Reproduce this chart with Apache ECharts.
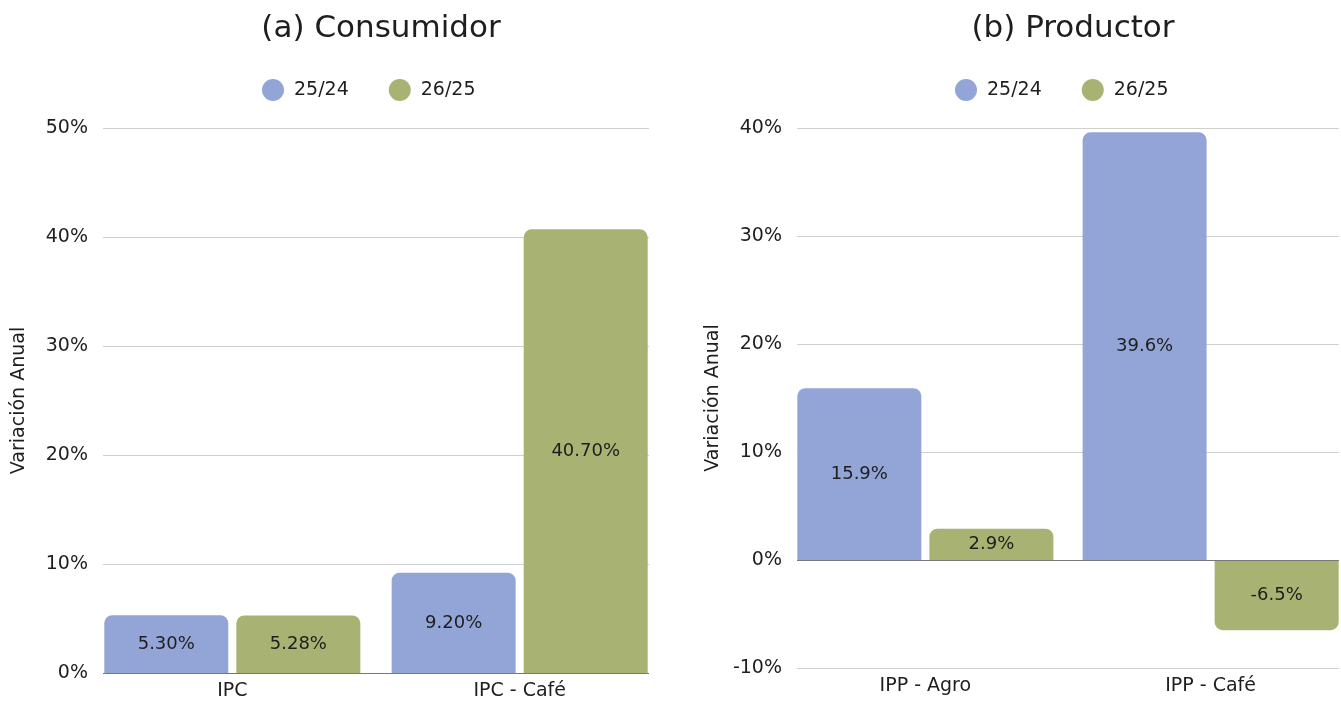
<!DOCTYPE html>
<html>
<head>
<meta charset="utf-8">
<script src="https://cdn.jsdelivr.net/npm/echarts@6/dist/echarts.min.js"></script>
<style>
  html, body { margin: 0; padding: 0; background: #fff; }
  #chart { width: 1341px; height: 701px; }
</style>
</head>
<body>
<div id="chart"></div>
<script>
// data
var seriesNames = ['25/24', '26/25']
var consCategories = ['IPC', 'IPC - Café']
var consA = [5.30, 9.20]
var consB = [5.28, 40.70]
var prodCategories = ['IPP - Agro', 'IPP - Café']
var prodA = [15.9, 39.6]
var prodB = [2.9, -6.5]

var FONT = '"DejaVu Sans", sans-serif'
var TXT = '#1e1e1e'
var BLUE = '#93a5d7'
var GREEN = '#a8b373'

// bars are rounded only on the end away from zero
function pairs (arr) {
  return arr.map(function (v, i) {
    return {
      value: [i, v],
      itemStyle: { borderRadius: v >= 0 ? [8, 8, 0, 0] : [0, 0, 8, 8] }
    }
  })
}

function barSeries (name, color, data, idx, decimals) {
  return {
    name: name,
    type: 'bar',
    xAxisIndex: idx,
    yAxisIndex: idx,
    data: pairs(data),
    barWidth: 124,
    barGap: '6.5%',
    itemStyle: { color: color },
    label: {
      show: true,
      position: 'inside',
      color: TXT,
      fontFamily: FONT,
      fontSize: 18,
      formatter: function (p) { return p.value[1].toFixed(decimals) + '%' }
    },
    z: 3
  }
}

function zeroLine (idx) {
  return {
    type: 'line',
    xAxisIndex: idx,
    yAxisIndex: idx,
    data: [],
    silent: true,
    z: 1,
    markLine: {
      silent: true,
      symbol: 'none',
      label: { show: false },
      lineStyle: { color: '#777', width: 1, type: 'solid' },
      data: [{ yAxis: 0 }]
    }
  }
}

function xAxisFor (idx, cats) {
  return {
    type: 'value',
    gridIndex: idx,
    min: -0.45,
    max: 1.45,
    axisLine: { show: false },
    axisTick: { show: false },
    splitLine: { show: false },
    axisLabel: {
      customValues: [0, 1],
      margin: 9,
      color: TXT,
      fontFamily: FONT,
      fontSize: 19,
      formatter: function (v) { return cats[Math.round(v)] }
    }
  }
}

function yAxisFor (idx, min, max) {
  return {
    type: 'value',
    gridIndex: idx,
    min: min,
    max: max,
    interval: 10,
    name: 'Variación Anual',
    nameLocation: 'middle',
    nameGap: 74,
    nameTextStyle: { color: TXT, fontFamily: FONT, fontSize: 19 },
    axisLine: { show: false },
    axisTick: { show: false },
    splitLine: { lineStyle: { color: '#d0d0d0', width: 1 } },
    axisLabel: {
      margin: 15,
      color: TXT,
      fontFamily: FONT,
      fontSize: 19,
      formatter: '{value}%'
    }
  }
}

var option = {
  backgroundColor: '#fff',
  animation: false,
  title: [
    {
      text: '(a) Consumidor',
      left: 376,
      top: 8,
      textAlign: 'center',
      textStyle: { color: TXT, fontFamily: FONT, fontSize: 31, fontWeight: 'normal' }
    },
    {
      text: '(b) Productor',
      left: 1068,
      top: 8,
      textAlign: 'center',
      textStyle: { color: TXT, fontFamily: FONT, fontSize: 31, fontWeight: 'normal' }
    }
  ],
  legend: [
    {
      data: seriesNames,
      left: 257,
      top: 74,
      icon: 'circle',
      itemWidth: 22,
      itemHeight: 22,
      itemGap: 40,
      textStyle: { color: TXT, fontFamily: FONT, fontSize: 19, padding: [0, 0, 0, 5] }
    },
    {
      data: seriesNames,
      left: 950,
      top: 74,
      icon: 'circle',
      itemWidth: 22,
      itemHeight: 22,
      itemGap: 40,
      textStyle: { color: TXT, fontFamily: FONT, fontSize: 19, padding: [0, 0, 0, 5] }
    }
  ],
  grid: [
    { left: 103, top: 128, width: 546, height: 545 },
    { left: 797, top: 128, width: 542, height: 540 }
  ],
  xAxis: [xAxisFor(0, consCategories), xAxisFor(1, prodCategories)],
  yAxis: [yAxisFor(0, 0, 50), yAxisFor(1, -10, 40)],
  series: [
    zeroLine(0),
    zeroLine(1),
    barSeries(seriesNames[0], BLUE, consA, 0, 2),
    barSeries(seriesNames[1], GREEN, consB, 0, 2),
    barSeries(seriesNames[0], BLUE, prodA, 1, 1),
    barSeries(seriesNames[1], GREEN, prodB, 1, 1)
  ]
}

var myChart = echarts.init(document.getElementById('chart'))
myChart.setOption(option)
</script>
</body>
</html>
